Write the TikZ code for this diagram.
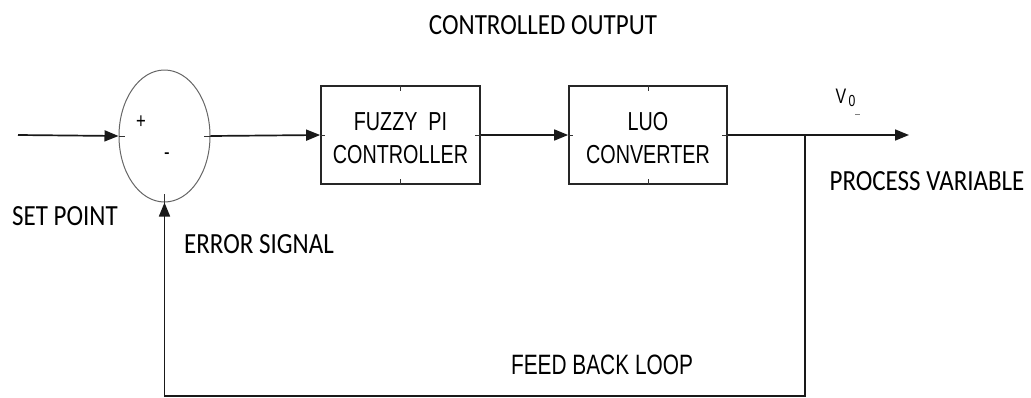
\documentclass[tikz,border=0pt]{standalone}
\usepackage{graphicx}
\usepackage{fontspec}
\setmainfont{Carlito}
\newfontfamily\boxfont{Liberation Sans}[FakeStretch=0.76]
\newfontfamily\loopfont{Liberation Sans}[FakeStretch=0.745]
\usetikzlibrary{shapes.geometric,arrows.meta}
% caption text is set slightly taller than wide
\newcommand\tallcaps[1]{\scalebox{1}[1.17]{#1}}

\begin{document}
\begin{tikzpicture}[x=1pt,y=-1pt,
  wire/.style={line width=1.7pt, black!90},
  arr/.style={wire,-{Triangle[length=14pt,width=11pt]}},
  blockbox/.style={draw, line width=1.7pt, black!85, minimum width=159pt,
    minimum height=98pt, inner sep=0pt},
  blocktext/.style={align=center, inner sep=0pt, black,
    font=\boxfont\fontsize{26}{33}\selectfont},
  lbl/.style={font=\fontsize{25}{30}\selectfont, inner sep=0pt, black},
  sign/.style={font=\boxfont\fontsize{22}{24}\selectfont, inner sep=0pt},
  stub/.style={line width=1pt, black!80}]
\useasboundingbox (0,0) rectangle (1031,397);

% summing junction
\node[ellipse, draw=black!60, line width=1pt, minimum width=91pt,
  minimum height=132pt, inner sep=0pt] (sum) at (164.5,136) {};
\node[sign] (plus) at (141,122) {+};
\node[sign] (minus) at (167,156) {-};

% blocks
\node[blockbox] (fuzzy) at (400.5,135) {};
\node[blockbox, minimum width=158pt] (luo) at (648,135) {};
\node[blocktext] (fuzzyT) at (400.5,138) {FUZZY\ \ PI\\CONTROLLER};
\node[blocktext] (luoT) at (648,138) {LUO\\CONVERTER};

% port stubs
\draw[stub] (sum.west) -- ++(6,0);
\draw[stub] (sum.east) -- ++(-7,0);
\draw[stub] (sum.south) -- ++(0,-9);
\foreach \b in {fuzzy,luo}{
  \draw[stub] (\b.north) -- ++(0,6);
  \draw[stub] (\b.south) -- ++(0,-6);
  \draw[stub] (\b.west) -- ++(5,0);
  \draw[stub] (\b.east) -- ++(-6,0);
}

% signal path
\coordinate (in) at (18,135);
\coordinate (br) at (805,135);
\coordinate (out) at (909,135);
\coordinate (fbR) at (805,396);
\coordinate (fbL) at (sum.south |- fbR);

\draw[arr] (in) -- (sum.west);
\draw[arr] (sum.east) -- (fuzzy.west);
\draw[arr] (fuzzy.east) -- (luo.west);
\draw[arr] (luo.east) -- (out);
\draw[arr] (br) -- (fbR) -- (fbL) -- (sum.south);

% labels
\node[lbl] (ctrl) at (543,25) {\tallcaps{CONTROLLED OUTPUT}};
\node[lbl] (setp) at (65,216) {\tallcaps{SET POINT}};
\node[lbl] (err) at (259,244) {\tallcaps{ERROR SIGNAL}};
\node[lbl] (pv) at (927,181) {\tallcaps{PROCESS VARIABLE}};
\node[lbl, font=\loopfont\fontsize{28}{30}\selectfont] (fb) at (602,365) {FEED BACK LOOP};

% output voltage label
\node[inner sep=0pt, font=\boxfont\fontsize{21}{22}\selectfont] (vo) at (841,96) {V};
\node[inner sep=0pt, font=\boxfont\fontsize{16}{16}\selectfont] (vsub) at (852,101) {0};
\coordinate (d1) at (855,114);
\coordinate (d2) at (860,114);
\draw[stub, black!50] (d1) -- (d2);
\end{tikzpicture}
\end{document}
